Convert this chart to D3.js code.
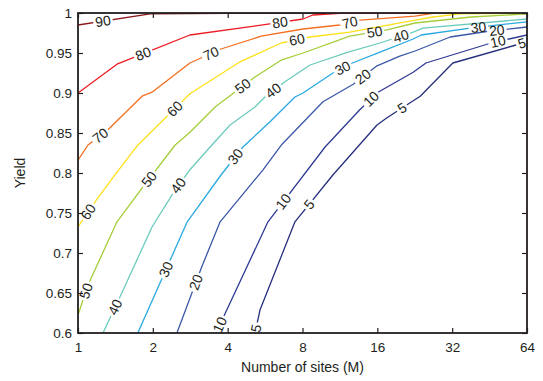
<!DOCTYPE html>
<html lang="en">
<head>
<meta charset="UTF-8">
<title>Yield vs number of sites</title>
<script src="https://d3js.org/d3.v7.min.js"></script>
<style>
  body { margin: 0; background: #fff; }
  svg { display: block; font-family: "Liberation Sans", Arial, sans-serif; }
</style>
</head>
<body>
<svg id="chart"></svg>
<script>
// contour levels, colours and [M, yield] points
const levels = [90, 80, 70, 60, 50, 40, 30, 20, 10, 5];
const colors = ["#8b1a1e", "#ed1c24", "#f36f21", "#fde01a", "#a5cd39",
                "#6ccbbc", "#2aa9e0", "#3a58a7", "#2e3a93", "#262e7d"];

const c90 = [[1,0.985],[1.95,0.999],[4,0.9996],[64,0.9998]];
const c80 = [[1,0.9],[1.435,0.936],[1.895,0.951],[2.82,0.9725],[5.81,0.986],[8.04,0.9925],
             [8.8,0.9975],[11.3,0.9995],[64,0.9998]];
const c70 = [[1,0.816],[1.097,0.835],[1.32,0.854],[1.81,0.896],[1.985,0.901],[2.82,0.9375],
             [3.76,0.955],[5.45,0.971],[8.04,0.98],[11.3,0.985],[13.6,0.991],[22.7,0.996],
             [26.8,0.9995],[64,0.9998]];
const c60 = [[1,0.7325],[1.17,0.764],[1.435,0.801],[1.73,0.834],[2.82,0.899],[4.49,0.939],
             [6.56,0.9625],[8.58,0.97],[12.4,0.976],[22.7,0.991],[26.8,0.995],[34.4,0.999],
             [64,0.9996]];
const c50 = [[1,0.6225],[1.097,0.66],[1.435,0.739],[1.81,0.781],[2.46,0.835],[2.82,0.851],
             [3.56,0.8825],[5.15,0.92],[6.56,0.941],[8.04,0.95],[12.4,0.971],[17.5,0.979],
             [22.7,0.9875],[38.1,0.995],[64,0.9988]];
const c40 = [[1.26,0.6],[1.5,0.65],[1.985,0.7325],[2.46,0.779],[2.82,0.804],[3.4,0.8325],
             [4.09,0.86],[5.15,0.8825],[5.65,0.895],[6.8,0.914],[8.58,0.935],[12.2,0.951],
             [16.4,0.9625],[22.3,0.976],[24.4,0.981],[64,0.9925]];
const c30 = [[1.74,0.6],[2.75,0.739],[3.76,0.7975],[4.61,0.8325],[5.92,0.864],[7.46,0.895],
             [8.04,0.9],[10.6,0.925],[12.7,0.9375],[16.4,0.951],[22.3,0.9675],[24,0.9725],
             [37.8,0.981],[64,0.989]];
const c20 = [[2.5,0.6],[3.13,0.681],[3.73,0.739],[5.55,0.804],[6.62,0.836],[9.67,0.889],
             [12.8,0.911],[15.95,0.934],[19.7,0.946],[22.7,0.9525],[31.4,0.97],[45.4,0.9775],
             [64,0.9825]];
const c10 = [[3.59,0.6],[5.81,0.739],[9.86,0.8325],[13.6,0.879],[16.1,0.901],[22.3,0.926],
             [25.1,0.9375],[45.9,0.9625],[64,0.9725]];
const c5  = [[5.15,0.6],[5.4,0.629],[7.46,0.739],[10.6,0.7975],[15.95,0.86],[17.5,0.869],
             [23.8,0.896],[32.2,0.9375],[57.8,0.96],[64,0.964]];
const contours = [c90, c80, c70, c60, c50, c40, c30, c20, c10, c5];

// where the inline labels sit, as M values along each contour
const labelAt = [[1.26], [1.83, 6.5], [1.23, 3.43, 12.4], [1.1, 2.45, 7.6],
                 [1.077, 1.93, 4.6, 15.6], [1.41, 2.53, 6.1, 19.9], [2.26, 4.3, 11.6, 40.8],
                 [2.98, 14, 48.4], [3.72, 6.7, 15.1, 48.9], [5.2, 8.5, 20.1, 61]];

const xTicks = [1, 2, 4, 8, 16, 32, 64];
const yTicks = [0.6, 0.65, 0.7, 0.75, 0.8, 0.85, 0.9, 0.95, 1];

const W = 543, H = 381;
const ink = "#231f20";
const svg = d3.select("#chart").attr("width", W).attr("height", H);

const x = d3.scaleLog().base(2).domain([1, 64]).range([78, 527]);
const y = d3.scaleLinear().domain([0.6, 1]).range([333, 13]);

svg.append("clipPath").attr("id", "plot")
  .append("rect").attr("x", 78).attr("y", 13).attr("width", 449).attr("height", 320);

const line = d3.line().x(d => x(d[0])).y(d => y(d[1]));
const defs = svg.append("defs");
const lineG = svg.append("g").attr("clip-path", "url(#plot)");
const labelG = svg.append("g");

// find a point on the contour (pixel space) and its direction
function pointAt(pts, m) {
  const px = x(m);
  for (let i = 0; i < pts.length - 1; i++) {
    const x0 = x(pts[i][0]), x1 = x(pts[i + 1][0]);
    if (px >= x0 && px <= x1) {
      const y0 = y(pts[i][1]), y1 = y(pts[i + 1][1]);
      const t = (px - x0) / (x1 - x0);
      return { x: px, y: y0 + t * (y1 - y0), a: Math.atan2(y1 - y0, x1 - x0) * 180 / Math.PI };
    }
  }
  return null;
}

contours.forEach((pts, i) => {
  const mask = defs.append("mask").attr("id", "m" + i)
    .attr("maskUnits", "userSpaceOnUse")
    .attr("x", 0).attr("y", 0).attr("width", W).attr("height", H);
  mask.append("rect").attr("width", W).attr("height", H).attr("fill", "#fff");

  labelAt[i].forEach(m => {
    const p = pointAt(pts, m);
    if (!p) return;
    const t = labelG.append("text")
      .attr("transform", `translate(${p.x},${p.y}) rotate(${p.a})`)
      .attr("text-anchor", "middle")
      .attr("dy", "0.35em")
      .attr("font-size", 14)
      .attr("fill", ink)
      .text(levels[i]);
    const w = t.node().getComputedTextLength() + 4;
    mask.append("rect")
      .attr("x", -w / 2).attr("y", -6).attr("width", w).attr("height", 12)
      .attr("transform", `translate(${p.x},${p.y}) rotate(${p.a})`)
      .attr("fill", "#000");
  });

  lineG.append("g").attr("mask", `url(#m${i})`)
    .append("path")
    .attr("d", line(pts))
    .attr("fill", "none")
    .attr("stroke", colors[i])
    .attr("stroke-width", 1.3)
    .attr("stroke-linejoin", "round");
});

// axes: ticks pointing inward on all four sides
function styleAxis(g) {
  g.select(".domain").remove();
  g.selectAll("line").attr("stroke", ink).attr("stroke-width", 1.2);
  g.selectAll("text").attr("fill", ink).attr("font-size", 13.5)
    .attr("font-family", "Liberation Sans, Arial, sans-serif");
}

svg.append("g").attr("transform", "translate(0,333)")
  .call(d3.axisBottom(x).tickValues(xTicks).tickFormat(d3.format("d"))
    .tickSizeInner(-5).tickSizeOuter(0).tickPadding(9))
  .call(styleAxis);
svg.append("g").attr("transform", "translate(0,13)")
  .call(d3.axisTop(x).tickValues(xTicks).tickFormat("").tickSizeInner(-5).tickSizeOuter(0))
  .call(styleAxis);
svg.append("g").attr("transform", "translate(78,0)")
  .call(d3.axisLeft(y).tickValues(yTicks).tickFormat(d => d3.format("")(+d.toFixed(2)))
    .tickSizeInner(-5).tickSizeOuter(0).tickPadding(6))
  .call(styleAxis);
svg.append("g").attr("transform", "translate(527,0)")
  .call(d3.axisRight(y).tickValues(yTicks).tickFormat("").tickSizeInner(-5).tickSizeOuter(0))
  .call(styleAxis);

svg.append("rect")
  .attr("x", 78).attr("y", 13).attr("width", 449).attr("height", 320)
  .attr("fill", "none").attr("stroke", ink).attr("stroke-width", 1.8);

svg.append("text")
  .attr("x", 302.5).attr("y", 372)
  .attr("text-anchor", "middle")
  .attr("font-size", 14).attr("fill", ink)
  .text("Number of sites (M)");

svg.append("text")
  .attr("transform", "translate(25,173) rotate(-90)")
  .attr("text-anchor", "middle")
  .attr("font-size", 14).attr("fill", ink)
  .text("Yield");
</script>
</body>
</html>
